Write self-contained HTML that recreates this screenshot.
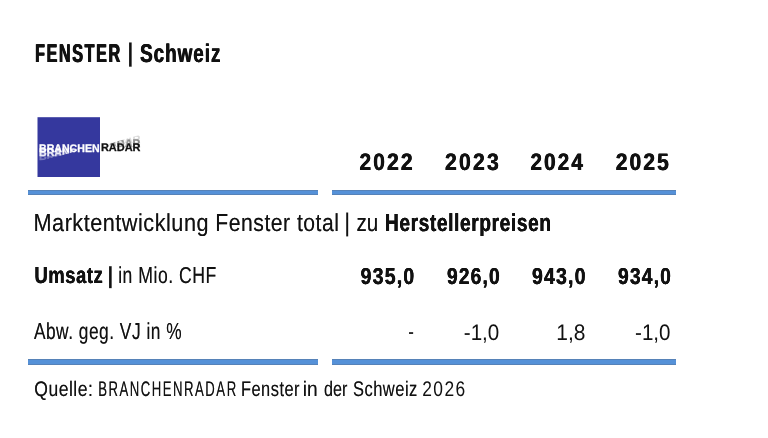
<!DOCTYPE html>
<html lang="de"><head><meta charset="utf-8"><title>FENSTER | Schweiz</title>
<style>
html,body{margin:0;padding:0;background:#fff;}
body{width:768px;height:438px;position:relative;overflow:hidden;font-family:"Liberation Sans",sans-serif;color:#111;text-rendering:geometricPrecision;}
.t{position:absolute;left:0;top:0;white-space:nowrap;line-height:1;transform-origin:0 0;font-weight:400;}
.b{font-weight:700;}
.bar{position:absolute;background:#5591d8;box-sizing:border-box;border-top:1px solid #5682b8;border-bottom:1px solid #5682b8;}
#logo{position:absolute;left:0;top:0;}
</style></head><body>
<div class="bar" style="left:28px;top:190px;width:290px;height:5px"></div>
<div class="bar" style="left:332px;top:190px;width:344px;height:5px"></div>
<div class="bar" style="left:28px;top:359px;width:290px;height:6px"></div>
<div class="bar" style="left:332px;top:359px;width:344px;height:6px"></div>
<svg id="logo" width="768" height="200" viewBox="0 0 768 200">
<defs>
<clipPath id="cb"><polygon points="38,140 90,140 75,151.8 38,161.4"/></clipPath>
<clipPath id="cr"><polygon points="142,134.3 106,144.6 142,152"/></clipPath>
</defs>
<rect x="37.5" y="117.2" width="62.5" height="59.8" fill="#35389e"/>
<g font-family="Liberation Sans, sans-serif" font-weight="700" font-size="10.9" stroke-width="0.28" stroke-linejoin="round">
<g fill="#fff" stroke="#fff">
<text x="39.0" y="159.7" opacity="0.32" clip-path="url(#cb)" textLength="60.6" lengthAdjust="spacingAndGlyphs">BRANCHEN</text>
<text x="39.0" y="155.8" opacity="0.85" clip-path="url(#cb)" textLength="60.6" lengthAdjust="spacingAndGlyphs">BRANCHEN</text>
<text x="39.0" y="151.8" textLength="60.6" lengthAdjust="spacingAndGlyphs">BRANCHEN</text>
</g>
<g fill="#111" stroke="#111">
<text x="100.9" y="143.0" opacity="0.16" clip-path="url(#cr)" textLength="39.6" lengthAdjust="spacingAndGlyphs">RADAR</text>
<text x="100.9" y="147.0" opacity="0.4" clip-path="url(#cr)" textLength="39.6" lengthAdjust="spacingAndGlyphs">RADAR</text>
<text x="100.9" y="151.3" textLength="39.6" lengthAdjust="spacingAndGlyphs">RADAR</text>
</g>
</g>
</svg>
<span class="t b" style="font-size:25.7px;transform:translate(35.09px,42.00px) scaleX(0.6296);letter-spacing:2.54px;text-shadow:0.64px 0 0 currentColor,-0.64px 0 0 currentColor">FENSTER</span>
<span class="t b" style="font-size:25.6px;transform:translate(127.62px,41.21px) scaleX(0.8000)">|</span>
<span class="t b" style="font-size:25.7px;transform:translate(140.11px,42.00px) scaleX(0.7335);letter-spacing:1.36px;text-shadow:0.41px 0 0 currentColor,-0.41px 0 0 currentColor">Schweiz</span>
<span class="t b" style="font-size:23.8px;transform:translate(359.45px,151.00px) scaleX(0.8777);letter-spacing:2.51px;text-shadow:0.34px 0 0 currentColor,-0.34px 0 0 currentColor">2022</span>
<span class="t b" style="font-size:23.8px;transform:translate(445.04px,151.00px) scaleX(0.8894);letter-spacing:2.47px;text-shadow:0.34px 0 0 currentColor,-0.34px 0 0 currentColor">2023</span>
<span class="t b" style="font-size:23.8px;transform:translate(530.46px,151.00px) scaleX(0.8653);letter-spacing:2.54px;text-shadow:0.35px 0 0 currentColor,-0.35px 0 0 currentColor">2024</span>
<span class="t b" style="font-size:23.8px;transform:translate(615.85px,151.00px) scaleX(0.8739);letter-spacing:2.52px;text-shadow:0.34px 0 0 currentColor,-0.34px 0 0 currentColor">2025</span>
<span class="t" style="font-size:24.6px;transform:translate(33.51px,212.00px) scaleX(0.8815);letter-spacing:0.57px;text-shadow:0 0 0 rgba(17,17,17,0.6)">Marktentwicklung</span>
<span class="t" style="font-size:24.6px;transform:translate(215.35px,212.00px) scaleX(0.8605);letter-spacing:0.58px;text-shadow:0 0 0 rgba(17,17,17,0.6)">Fenster total</span>
<span class="t" style="font-size:25.5px;transform:translate(343.98px,210.70px) scaleX(0.9621)">|</span>
<span class="t" style="font-size:24.6px;transform:translate(356.45px,212.00px) scaleX(0.8392);text-shadow:0 0 0 rgba(17,17,17,0.6)">zu</span>
<span class="t b" style="font-size:24.6px;transform:translate(384.95px,212.00px) scaleX(0.7787);letter-spacing:0.77px;text-shadow:0.19px 0 0 currentColor,-0.19px 0 0 currentColor">Herstellerpreisen</span>
<span class="t b" style="font-size:23.1px;transform:translate(34.49px,264.00px) scaleX(0.7940);letter-spacing:0.76px;text-shadow:0.19px 0 0 currentColor,-0.19px 0 0 currentColor">Umsatz</span>
<span class="t b" style="font-size:23.2px;transform:translate(107.62px,263.60px) scaleX(0.8828)">|</span>
<span class="t" style="font-size:23.1px;transform:translate(118.20px,264.00px) scaleX(0.7626);letter-spacing:0.66px;text-shadow:0 0 0 rgba(17,17,17,0.6)">in Mio. CHF</span>
<span class="t b" style="font-size:23.1px;transform:translate(360.59px,265.00px) scaleX(0.8442);letter-spacing:1.42px;text-shadow:0.24px 0 0 currentColor,-0.24px 0 0 currentColor">935,0</span>
<span class="t b" style="font-size:23.1px;transform:translate(447.00px,265.00px) scaleX(0.8282);letter-spacing:1.45px;text-shadow:0.24px 0 0 currentColor,-0.24px 0 0 currentColor">926,0</span>
<span class="t b" style="font-size:23.1px;transform:translate(531.99px,265.00px) scaleX(0.8424);letter-spacing:1.42px;text-shadow:0.24px 0 0 currentColor,-0.24px 0 0 currentColor">943,0</span>
<span class="t b" style="font-size:23.1px;transform:translate(618.00px,265.00px) scaleX(0.8317);letter-spacing:1.44px;text-shadow:0.24px 0 0 currentColor,-0.24px 0 0 currentColor">934,0</span>
<span class="t" style="font-size:23.1px;transform:translate(33.90px,320.00px) scaleX(0.7504);letter-spacing:0.67px;text-shadow:0 0 0 rgba(17,17,17,0.6)">Abw. geg. VJ in %</span>
<span class="t" style="font-size:22.4px;transform:translate(408.37px,321.00px) scaleX(0.7563)">-</span>
<span class="t" style="font-size:22.4px;transform:translate(463.76px,322.00px) scaleX(0.9212)">-1,0</span>
<span class="t" style="font-size:22.4px;transform:translate(556.29px,322.00px) scaleX(0.9365)">1,8</span>
<span class="t" style="font-size:22.4px;transform:translate(635.06px,322.00px) scaleX(0.9186)">-1,0</span>
<span class="t" style="font-size:21.1px;transform:translate(34.23px,379.00px) scaleX(0.8326);letter-spacing:0.60px;text-shadow:0 0 0 rgba(17,17,17,0.6)">Quelle:</span>
<span class="t" style="font-size:21.1px;transform:translate(98.17px,379.00px) scaleX(0.6243);letter-spacing:2.40px;text-shadow:0.24px 0 0 currentColor,-0.24px 0 0 currentColor;text-shadow:0 0 0 rgba(17,17,17,0.6)">BRANCHENRADAR</span>
<span class="t" style="font-size:21.1px;transform:translate(240.92px,379.00px) scaleX(0.7782);letter-spacing:0.64px;text-shadow:0 0 0 rgba(17,17,17,0.6)">Fenster</span>
<span class="t" style="font-size:21.1px;transform:translate(302.81px,379.00px) scaleX(0.9052);text-shadow:0 0 0 rgba(17,17,17,0.6)">in</span>
<span class="t" style="font-size:21.1px;transform:translate(323.89px,379.00px) scaleX(0.7668);text-shadow:0 0 0 rgba(17,17,17,0.6)">der</span>
<span class="t" style="font-size:21.1px;transform:translate(352.88px,379.00px) scaleX(0.7826);letter-spacing:0.64px;text-shadow:0 0 0 rgba(17,17,17,0.6)">Schweiz</span>
<span class="t" style="font-size:21.1px;transform:translate(422.28px,379.00px) scaleX(0.8249);letter-spacing:1.70px">2026</span>
</body></html>
